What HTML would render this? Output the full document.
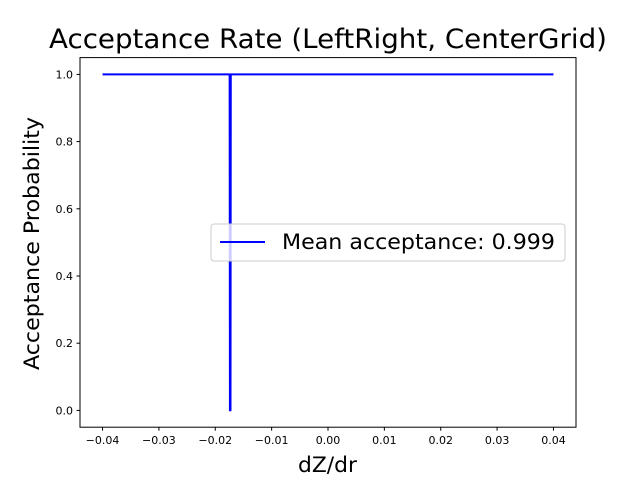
<!DOCTYPE html>
<html><head><meta charset="utf-8"><style>
body{margin:0;background:#fff}
svg text{font-family:"DejaVu Sans","Liberation Sans",sans-serif}
</style></head><body>
<svg id="chart" width="640" height="480" xmlns="http://www.w3.org/2000/svg">
<rect width="640" height="480" fill="#fff"/>
<text x="49" y="48" font-size="27" textLength="558" lengthAdjust="spacingAndGlyphs">Acceptance Rate (LeftRight, CenterGrid)</text>
<g id="plot"></g>
<rect x="80" y="57.6" width="496" height="369.6" fill="none" stroke="#000" stroke-width="1"/>
<text x="298" y="472" font-size="21" textLength="59" lengthAdjust="spacingAndGlyphs">dZ/dr</text>
<text transform="translate(39,370) rotate(-90)" font-size="21" textLength="253" lengthAdjust="spacingAndGlyphs">Acceptance Probability</text>
<g>
<rect x="211" y="224" width="354" height="37" rx="3" fill="#fff" fill-opacity="0.8" stroke="#ccc"/>
<line x1="220" y1="242" x2="265" y2="242" stroke="#0000ff" stroke-width="2"/>
<text x="282" y="249" font-size="21" textLength="273" lengthAdjust="spacingAndGlyphs">Mean acceptance: 0.999</text>
</g>
</svg>
<script>
const xTicks=[-0.04,-0.03,-0.02,-0.01,0.00,0.01,0.02,0.03,0.04];
const xTickLabels=["−0.04","−0.03","−0.02","−0.01","0.00","0.01","0.02","0.03","0.04"];
const yTicks=[0,0.2,0.4,0.6,0.8,1.0];
const yTickLabels=["0.0","0.2","0.4","0.6","0.8","1.0"];
const xs=[-0.04,-0.01745,-0.0174,-0.01735,-0.0173,-0.01725,0.04];
const ys=[1,1,0,1,0,1,1];
const L=80,R=576,T=57.6,B=427.2;
const xmin=-0.044,xmax=0.044,ymin=-0.05,ymax=1.05;
const sx=v=>L+(v-xmin)/(xmax-xmin)*(R-L);
const sy=v=>B-(v-ymin)/(ymax-ymin)*(B-T);
const NS="http://www.w3.org/2000/svg";
const g=document.getElementById('plot');
function mk(t,a){const e=document.createElementNS(NS,t);for(const k in a)e.setAttribute(k,a[k]);g.appendChild(e);return e;}
xTicks.forEach((v,i)=>{
 const l=mk('line',{x1:sx(v),x2:sx(v),y1:B,y2:B+3.5,stroke:'#000'});
 
 
 const t=mk('text',{x:sx(v),y:B+17,'font-size':11,'text-anchor':'middle'});
 t.textContent=xTickLabels[i];
 
 
});
yTicks.forEach((v,i)=>{
 const l=mk('line',{x1:L-3.5,x2:L,y1:sy(v),y2:sy(v),stroke:'#000'});
 
 
 const t=mk('text',{x:L-7,y:sy(v)+4,'font-size':11,'text-anchor':'end'});
 t.textContent=yTickLabels[i];
 
 
});
const p=mk('polyline',{points:xs.map((v,i)=>sx(v)+','+sy(ys[i])).join(' '),fill:'none',stroke:'#0000ff','stroke-width':2,'stroke-linejoin':'round'});


</script>
</body></html>
